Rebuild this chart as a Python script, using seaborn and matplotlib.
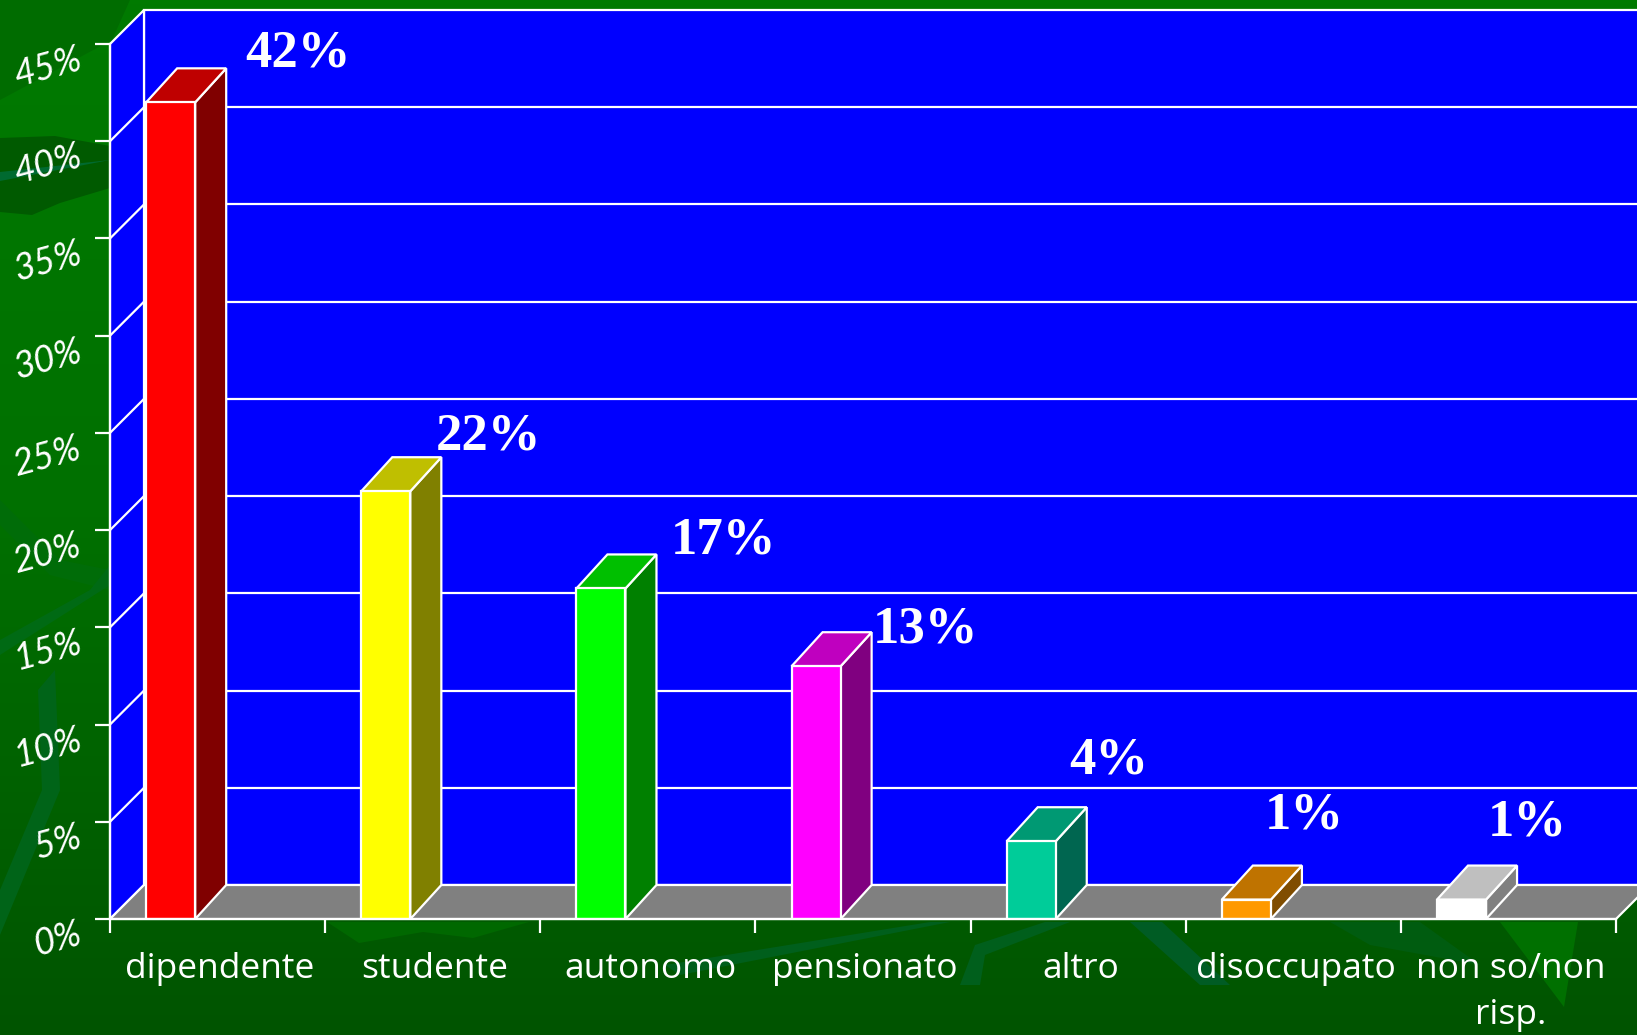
import numpy as np
import matplotlib.pyplot as plt
import matplotlib.transforms as mtrans
from matplotlib.patches import Polygon
import seaborn as sns

categories = ['dipendente', 'studente', 'autonomo', 'pensionato', 'altro', 'disoccupato', 'non so/non\nrisp.']
values = [42, 22, 17, 13, 4, 1, 1]
value_labels = ['42%', '22%', '17%', '13%', '4%', '1%', '1%']
y_ticks = [0, 5, 10, 15, 20, 25, 30, 35, 40, 45]
y_tick_labels = ['0%', '5%', '10%', '15%', '20%', '25%', '30%', '35%', '40%', '45%']

front_colors = ['#ff0000', '#ffff00', '#00ff00', '#ff00ff', '#00cc99', '#ff9900', '#ffffff']
top_colors = ['#bf0000', '#bfbf00', '#00bf00', '#bf00bf', '#009973', '#bf7300', '#bfbfbf']
side_colors = ['#800000', '#808000', '#008000', '#800080', '#006650', '#804d00', '#808080']

# label offsets from top of each bar, pixels
label_dx = [127, 103, 123, 109, 78, 58, 66]
label_dy = [49, 55, 48, 37, 81, 84, 77]

W, H = 1637, 1035
LEFT, RIGHT, TOP, BOTTOM = 110, 1616, 44, 919
LINE = '#ffffff'
LW = 1.6

sns.set_theme(style='white')
plt.rcParams['font.family'] = ['Open Sans', 'DejaVu Sans']

fig = plt.figure(figsize=(W / 100, H / 100), dpi=100)

# background, pixel coordinates
bg = fig.add_axes([0, 0, 1, 1], zorder=0)
bg.set_xlim(0, W)
bg.set_ylim(H, 0)
bg.axis('off')
grad = np.linspace(0, 1, 256).reshape(-1, 1)
bg.imshow(grad, extent=[0, W, H, 0], aspect='auto', vmin=0, vmax=1,
          cmap=sns.blend_palette(['#007a00', '#007000', '#005400'], as_cmap=True))
shapes = [
    ([(0, 0), (130, 0), (112, 40), (0, 100)], '#006c00'),
    ([(0, 138), (55, 136), (110, 146), (110, 188), (60, 203), (32, 215), (0, 212)], '#005a00'),
    ([(0, 172), (110, 160), (0, 181)], '#006a30'),
    ([(0, 500), (60, 560), (110, 570), (110, 590), (50, 575), (0, 525)], '#006c08'),
    ([(0, 640), (90, 590), (110, 565), (110, 585), (0, 655)], '#006a14'),
    ([(38, 690), (55, 670), (60, 790), (0, 935), (0, 890), (42, 790)], '#006418'),
    ([(327, 922), (359, 943), (423, 932), (473, 938), (529, 922)], '#006800'),
    ([(1130, 922), (1162, 922), (1230, 985), (1200, 985)], '#005c24'),
    ([(1500, 922), (1578, 922), (1564, 1007)], '#007000'),
    ([(1330, 922), (1420, 922), (1480, 965), (1370, 945)], '#005c10'),
    ([(960, 985), (975, 945), (1045, 922), (1070, 922), (985, 955), (980, 985)], '#005f1c'),
    ([(665, 965), (930, 922), (950, 922), (680, 975)], '#005f1c'),
]
for pts, col in shapes:
    bg.add_patch(Polygon(pts, closed=True, facecolor=col, edgecolor='none'))

ax = fig.add_axes([LEFT / W, 1 - BOTTOM / H, (RIGHT - LEFT) / W, (BOTTOM - TOP) / H], zorder=1)
ax.patch.set_alpha(0)

sns.barplot(x=categories, y=values, hue=categories, palette=front_colors, legend=False,
            saturation=1, width=0.228, edgecolor=LINE, linewidth=LW, ax=ax, zorder=5)

x0 = -0.282
x1 = x0 + 7
ax.set_xlim(x0, x1)
ax.set_ylim(0, 45)

# fake 3d depth, in data units
ddx = 34 / ((RIGHT - LEFT) / 7)
ddy = 34 / ((BOTTOM - TOP) / 45)
bar_ddx = 31 / ((RIGHT - LEFT) / 7)

# walls and floor
ax.add_patch(Polygon([(x0 + ddx, ddy), (x1 + ddx + 1, ddy), (x1 + ddx + 1, 45 + ddy), (x0 + ddx, 45 + ddy)],
                     facecolor='#0000ff', edgecolor=LINE, lw=LW, clip_on=False, zorder=1))
ax.add_patch(Polygon([(x0, 0), (x0 + ddx, ddy), (x0 + ddx, 45 + ddy), (x0, 45)],
                     facecolor='#0000ff', edgecolor=LINE, lw=LW, clip_on=False, zorder=1.1))
ax.add_patch(Polygon([(x0, 0), (x0 + ddx, ddy), (x1 + ddx, ddy), (x1, 0)],
                     facecolor='#808080', edgecolor=LINE, lw=LW, clip_on=False, zorder=1.2))
for t in y_ticks[1:-1]:
    ax.plot([x0 + ddx, x1 + ddx], [t + ddy, t + ddy], color=LINE, lw=LW, clip_on=False, zorder=1.3)
    ax.plot([x0, x0 + ddx], [t, t + ddy], color=LINE, lw=LW, clip_on=False, zorder=1.3)

# bar sides and tops
for i, bar in enumerate(ax.patches[:len(values)]):
    bx = bar.get_x()
    bw = bar.get_width()
    h = bar.get_height()
    ax.add_patch(Polygon([(bx + bw, 0), (bx + bw + bar_ddx, ddy), (bx + bw + bar_ddx, h + ddy), (bx + bw, h)],
                         facecolor=side_colors[i], edgecolor=LINE, lw=LW, clip_on=False, zorder=4))
    ax.add_patch(Polygon([(bx, h), (bx + bar_ddx, h + ddy), (bx + bw + bar_ddx, h + ddy), (bx + bw, h)],
                         facecolor=top_colors[i], edgecolor=LINE, lw=LW, clip_on=False, zorder=4))
    ax.annotate(value_labels[i], xy=(bx + bw / 2, h), xytext=(label_dx[i], label_dy[i]),
                textcoords='offset pixels', ha='center', va='center', color='white',
                family='Liberation Serif', weight='bold', fontsize=38, zorder=6)

for name in ['top', 'right']:
    ax.spines[name].set_visible(False)
for name in ['left', 'bottom']:
    ax.spines[name].set_color(LINE)
    ax.spines[name].set_linewidth(LW)
    ax.spines[name].set_zorder(7)

# category labels sit mid-slot, ticks on slot edges
ax.set_xticks(np.arange(7) + x0 + 0.51, labels=categories)
ax.set_xticks(np.arange(8) + x0, minor=True)
ax.tick_params(axis='x', which='major', length=0, pad=24, labelsize=25.5, labelcolor='white')
ax.tick_params(axis='x', which='minor', bottom=True, length=10, width=LW, color=LINE)
ax.set_yticks(y_ticks, labels=y_tick_labels)
ax.tick_params(axis='y', left=True, length=10.5, width=LW, color=LINE, pad=11, labelsize=26, labelcolor='white')
ax.set_xlabel('')
ax.set_ylabel('')

for lab in ax.get_xticklabels():
    lab.set_linespacing(1.45)

shift = mtrans.ScaledTranslation(0, -12 / 100, fig.dpi_scale_trans)
for lab in ax.get_yticklabels():
    lab.set_rotation(15)
    lab.set_family('Lato')
    lab.set_style('italic')
    lab.set_rotation_mode('anchor')
    lab.set_transform(lab.get_transform() + shift)

fig.savefig('out.png', dpi=100)
